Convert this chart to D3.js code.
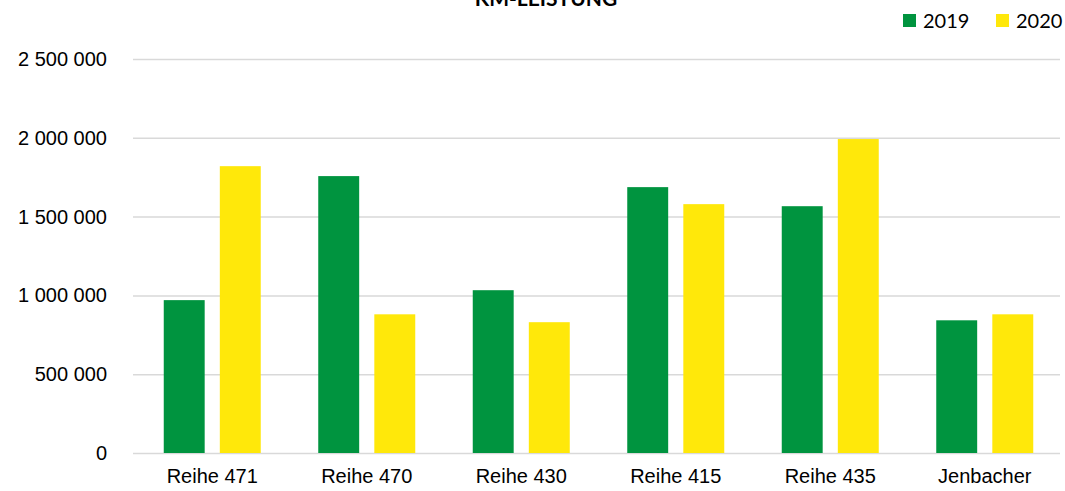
<!DOCTYPE html>
<html>
<head>
<meta charset="utf-8">
<script src="https://cdn.jsdelivr.net/npm/d3@7"></script>
<style>
  body { margin: 0; background: #fff; }
  svg { display: block; font-family: "Lato", "Open Sans", sans-serif; }
  .grid line { stroke: #d9d9d9; stroke-width: 1.5; }
  .grid .domain { display: none; }
  .axis text { fill: #000; font-size: 20px; }
  .axis .domain, .axis line { display: none; }
</style>
</head>
<body>
<div class="chart"></div>
<script>
const categories = ['Reihe 471', 'Reihe 470', 'Reihe 430', 'Reihe 415', 'Reihe 435', 'Jenbacher'];
const years = ['2019', '2020'];
const values2019 = [970000, 1757000, 1033000, 1687000, 1566000, 842000];
const values2020 = [1820000, 880000, 830000, 1579000, 1992000, 880000];
const yTicks = [0, 500000, 1000000, 1500000, 2000000, 2500000];
const colors = ['#00943f', '#ffe80a'];

const w = 1065;
const h = 491;
const padding = { top: 59, right: 3, bottom: 38, left: 135 };

const svg = d3.select('.chart')
  .append('svg')
  .attr('width', w)
  .attr('height', h);

const xScale = d3.scaleBand()
  .domain(categories)
  .range([padding.left, w - padding.right])
  .paddingInner(0)
  .paddingOuter(0);

const xInner = d3.scaleBand()
  .domain(years)
  .range([0, 97])
  .paddingInner(0.27);

const yScale = d3.scaleLinear()
  .domain([0, 2500000])
  .range([h - padding.bottom, padding.top]);

const fmt = (d) => d3.format(',')(d).replace(/,/g, ' ');

svg.append('g')
  .attr('class', 'grid')
  .attr('transform', `translate(${padding.left - 2}, 0)`)
  .call(d3.axisLeft(yScale)
    .tickValues(yTicks)
    .tickSize(-(w - padding.left - padding.right))
    .tickFormat(''));

svg.append('g')
  .attr('class', 'axis y-axis')
  .attr('transform', `translate(${padding.left - 25}, 0)`)
  .call(d3.axisLeft(yScale)
    .tickValues(yTicks)
    .tickSize(0)
    .tickFormat(fmt));

svg.append('g')
  .attr('class', 'axis x-axis')
  .attr('transform', `translate(0, ${h - padding.bottom})`)
  .call(d3.axisBottom(xScale).tickSize(0).tickPadding(16));

const series = years.map((y, i) => ({ year: y, values: i === 0 ? values2019 : values2020 }));

series.forEach((s, si) => {
  svg.append('g')
    .selectAll('rect')
    .data(s.values)
    .enter()
    .append('rect')
    .attr('x', (d, i) => xScale(categories[i]) + (xScale.bandwidth() - 97) / 2 + xInner(s.year))
    .attr('y', (d) => yScale(d))
    .attr('width', xInner.bandwidth())
    .attr('height', (d) => yScale(0) - yScale(d))
    .attr('fill', colors[si]);
});

svg.append('text')
  .attr('x', 546)
  .attr('y', 6)
  .attr('text-anchor', 'middle')
  .style('font-size', '21px')
  .style('font-weight', 'bold')
  .text('KM-LEISTUNG');

const legend = svg.append('g')
  .attr('class', 'legend')
  .attr('transform', 'translate(903, 14)');

legend.selectAll('rect')
  .data(years)
  .enter()
  .append('rect')
  .attr('x', (d, i) => i * 93)
  .attr('y', 0)
  .attr('width', 13)
  .attr('height', 13)
  .attr('fill', (d, i) => colors[i]);

legend.selectAll('text')
  .data(years)
  .enter()
  .append('text')
  .attr('x', (d, i) => i * 93 + 20)
  .attr('y', 14)
  .text((d) => d)
  .style('font-size', '20px');
</script>
</body>
</html>
